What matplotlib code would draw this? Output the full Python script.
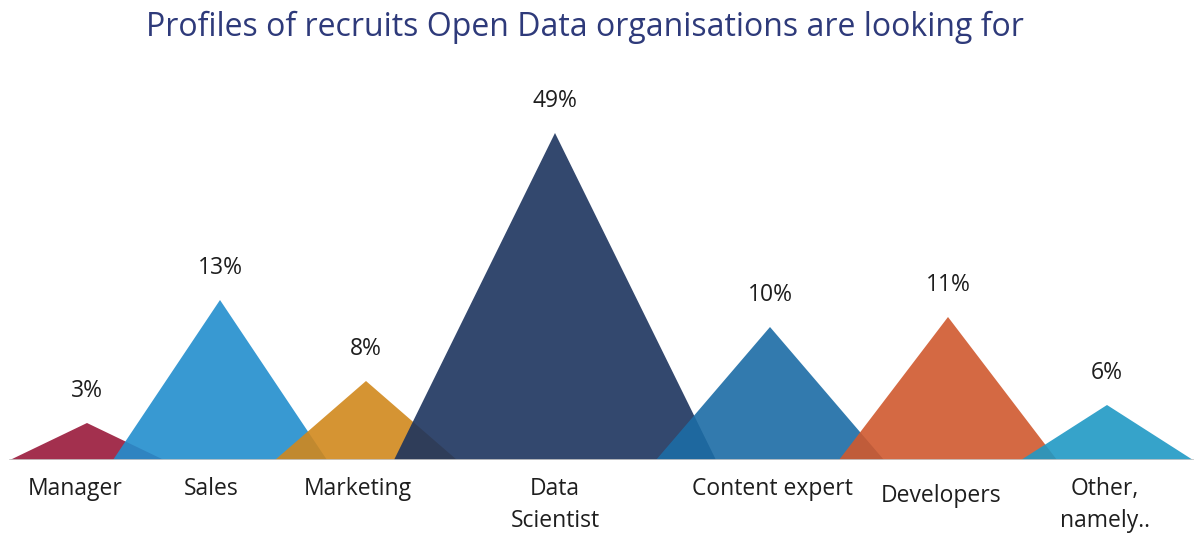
import matplotlib
matplotlib.use("Agg")
import matplotlib.pyplot as plt
from matplotlib.patches import Polygon

# data
categories = ["Manager", "Sales", "Marketing", "Data\nScientist", "Content expert", "Developers", "Other,\nnamely.."]
percent = [3, 13, 8, 49, 10, 11, 6]
# drawn peak height of each triangle (picture units above the baseline)
heights = [37, 160, 79, 327, 133, 143, 55]

# layout of the triangles
centre = [87, 220, 366, 555, 770, 948, 1107]
half_width = [77, 107, 91, 161, 114, 109, 86]
label_x = [75, 211, 358, 555, 772, 941, 1105]
label_y = [-17, -17, -17, -17, -17, -24, -17]
colours = ["#99193b", "#228ece", "#d1881d", "#1d345e", "#1c6ca5", "#d0592e", "#2099c5"]

plt.rcParams['font.family'] = ['Open Sans', 'DejaVu Sans']

fig = plt.figure(figsize=(11.94, 5.37), dpi=100)
ax = fig.add_axes([0, 77 / 537, 1, 460 / 537])
ax.set_xlim(0, 1194)
ax.set_ylim(0, 460)
ax.axis("off")

for i in range(len(categories)):
    tri = Polygon([(centre[i] - half_width[i], 0), (centre[i], heights[i]), (centre[i] + half_width[i], 0)],
                  closed=True, facecolor=colours[i], edgecolor="none", alpha=0.9, zorder=2 + i)
    ax.add_patch(tri)
    ax.text(centre[i], heights[i] + 20, str(percent[i]) + "%", ha="center", va="bottom",
            fontsize=16.5, color="#1e1e1e")
    ax.text(label_x[i], label_y[i], categories[i], ha="center", va="top", fontsize=16.5,
            color="#1e1e1e", linespacing=1.45, clip_on=False)

ax.plot([10, 1194], [0, 0], color="#c8c8c8", lw=1.2, zorder=20)

fig.text(0.49, 1 - 27 / 537, "Profiles of recruits Open Data organisations are looking for",
         ha="center", va="center", fontsize=23, color="#2e3a7a")

fig.savefig("out.png", dpi=100)
